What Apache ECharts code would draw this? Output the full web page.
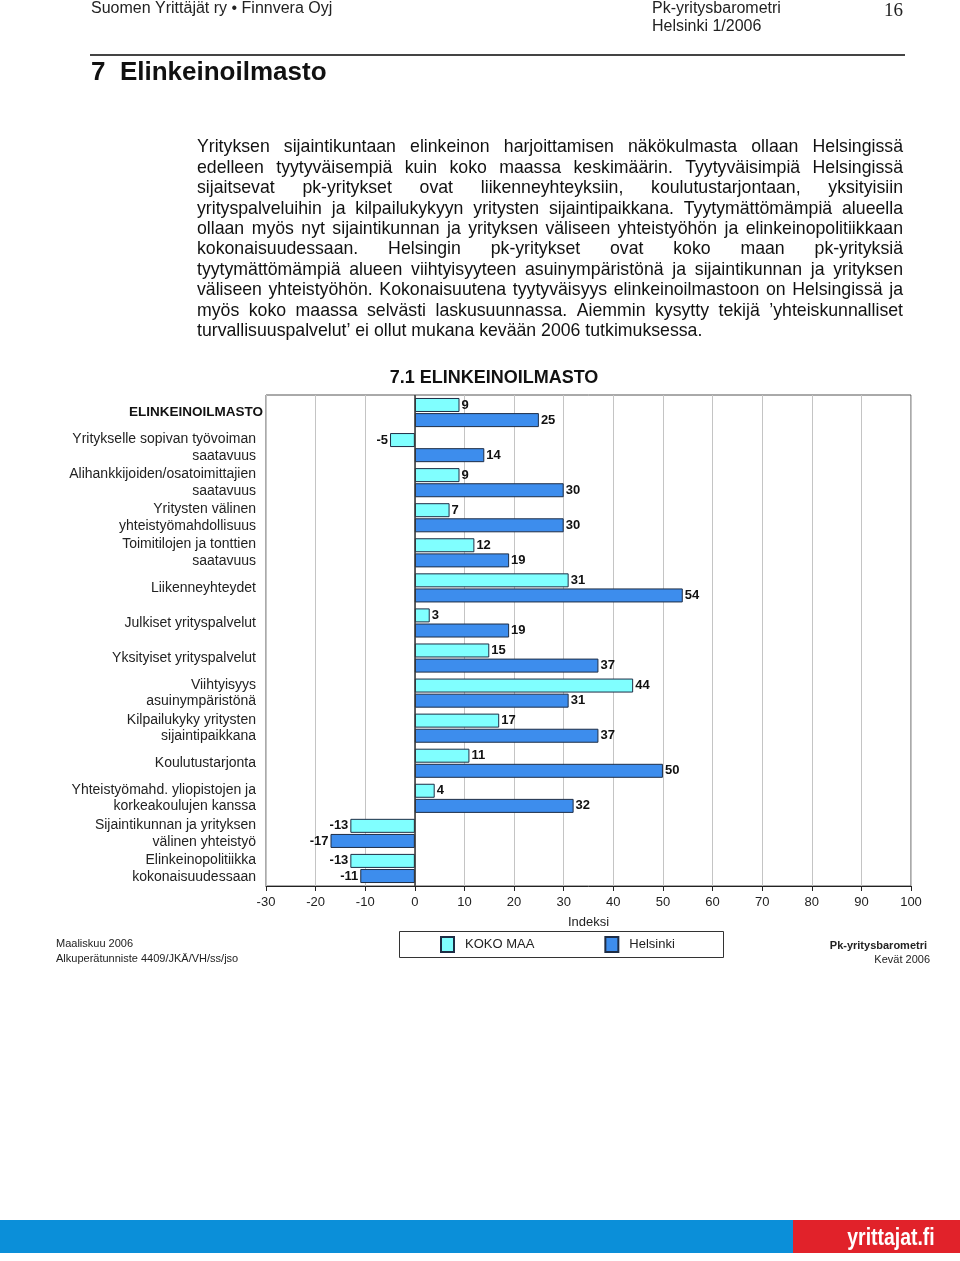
<!DOCTYPE html>
<html>
<head>
<meta charset="utf-8">
<script src="https://cdn.jsdelivr.net/npm/echarts@6/dist/echarts.min.js"></script>
<style>
html,body{margin:0;padding:0;background:#fff;}
#chart{width:960px;height:1261px;}
</style>
</head>
<body>
<div id="chart"></div>
<script>
// ---- Data ----
const categories = [
  'ELINKEINOILMASTO',
  'Yritykselle sopivan työvoiman\nsaatavuus',
  'Alihankkijoiden/osatoimittajien\nsaatavuus',
  'Yritysten välinen\nyhteistyömahdollisuus',
  'Toimitilojen ja tonttien\nsaatavuus',
  'Liikenneyhteydet',
  'Julkiset yrityspalvelut',
  'Yksityiset yrityspalvelut',
  'Viihtyisyys\nasuinympäristönä',
  'Kilpailukyky yritysten\nsijaintipaikkana',
  'Koulutustarjonta',
  'Yhteistyömahd. yliopistojen ja\nkorkeakoulujen kanssa',
  'Sijaintikunnan ja yrityksen\nvälinen yhteistyö',
  'Elinkeinopolitiikka\nkokonaisuudessaan'
];
const kokoMaa = [9, -5, 9, 7, 12, 31, 3, 15, 44, 17, 11, 4, -13, -13];
const helsinki = [25, 14, 30, 30, 19, 54, 19, 37, 31, 37, 50, 32, -17, -11];
const seriesNames = ['KOKO MAA', 'Helsinki'];
const xMin = -30, xMax = 100, xStep = 10;

const paragraphLines = [
  'Yrityksen sijaintikuntaan elinkeinon harjoittamisen näkökulmasta ollaan Helsingissä',
  'edelleen tyytyväisempiä kuin koko maassa keskimäärin. Tyytyväisimpiä Helsingissä',
  'sijaitsevat pk-yritykset ovat liikenneyhteyksiin, koulutustarjontaan, yksityisiin',
  'yrityspalveluihin ja kilpailukykyyn yritysten sijaintipaikkana. Tyytymättömämpiä alueella',
  'ollaan myös nyt sijaintikunnan ja yrityksen väliseen yhteistyöhön ja elinkeinopolitiikkaan',
  'kokonaisuudessaan. Helsingin pk-yritykset ovat koko maan pk-yrityksiä',
  'tyytymättömämpiä alueen viihtyisyyteen asuinympäristönä ja sijaintikunnan ja yrityksen',
  'väliseen yhteistyöhön. Kokonaisuutena tyytyväisyys elinkeinoilmastoon on Helsingissä ja',
  'myös koko maassa selvästi laskusuunnassa. Aiemmin kysytty tekijä ’yhteiskunnalliset',
  'turvallisuuspalvelut’ ei ollut mukana kevään 2006 tutkimuksessa.'
];

// ---- Build ----
const FONT = '"Liberation Sans", Arial, Helvetica, sans-serif';
const colors = ['#80ffff', '#3d8ded'];

function mkData(arr) {
  return arr.map(v => ({ value: v, label: { position: v < 0 ? 'left' : 'right' } }));
}

// justified paragraph as per-word texts
const graphics = [];
const measureCtx = document.createElement('canvas').getContext('2d');
const pFontSize = 17.7;
measureCtx.font = pFontSize + 'px ' + FONT;
const pLeft = 197, pRight = 903, pTop = 147.5, pLH = 20.4;
paragraphLines.forEach((line, i) => {
  const y = pTop + i * pLH;
  const words = line.split(' ');
  const last = i === paragraphLines.length - 1;
  const widths = words.map(w => measureCtx.measureText(w).width);
  const total = widths.reduce((a, b) => a + b, 0);
  const gap = (last || words.length < 2) ? measureCtx.measureText(' ').width : (pRight - pLeft - total) / (words.length - 1);
  let x = pLeft;
  words.forEach((w, j) => {
    graphics.push({
      type: 'text', x: x, y: y, silent: true,
      style: { text: w, fontSize: pFontSize, fontFamily: FONT, fill: '#111', textVerticalAlign: 'middle' }
    });
    x += widths[j] + gap;
  });
});

graphics.push(
  { type: 'text', x: 91, y: 9, style: { text: 'Suomen Yrittäjät ry • Finnvera Oyj', fontSize: 16, fontFamily: FONT, fill: '#222', textVerticalAlign: 'middle' } },
  { type: 'text', x: 652, y: 9, style: { text: 'Pk-yritysbarometri', fontSize: 16, fontFamily: FONT, fill: '#222', textVerticalAlign: 'middle' } },
  { type: 'text', x: 652, y: 27, style: { text: 'Helsinki 1/2006', fontSize: 16, fontFamily: FONT, fill: '#222', textVerticalAlign: 'middle' } },
  { type: 'text', x: 884, y: 11, style: { text: '16', fontSize: 19, fontFamily: '"Liberation Serif", "DejaVu Serif", serif', fill: '#222', textVerticalAlign: 'middle' } },
  { type: 'line', shape: { x1: 90, y1: 55, x2: 905, y2: 55 }, style: { stroke: '#444', lineWidth: 2 } },
  { type: 'text', x: 91, y: 73, style: { text: '7  Elinkeinoilmasto', fontSize: 26, fontWeight: 'bold', fontFamily: FONT, fill: '#111', textVerticalAlign: 'middle' } },
  { type: 'text', x: 494, y: 378, style: { text: '7.1 ELINKEINOILMASTO', fontSize: 18, fontWeight: 'bold', fontFamily: FONT, fill: '#111', textAlign: 'center', textVerticalAlign: 'middle' } },
  { type: 'rect', shape: { x: 399.5, y: 931.5, width: 324, height: 26 }, style: { fill: '#fff', stroke: '#333', lineWidth: 1 }, z: -1 },
  { type: 'text', x: 56, y: 944, style: { text: 'Maaliskuu 2006', fontSize: 11, fontFamily: FONT, fill: '#222', textVerticalAlign: 'middle' } },
  { type: 'text', x: 56, y: 959, style: { text: 'Alkuperätunniste 4409/JKÄ/VH/ss/jso', fontSize: 11, fontFamily: FONT, fill: '#222', textVerticalAlign: 'middle' } },
  { type: 'text', x: 927, y: 946, style: { text: 'Pk-yritysbarometri', fontSize: 11, fontWeight: 'bold', fontFamily: FONT, fill: '#222', textAlign: 'right', textVerticalAlign: 'middle' } },
  { type: 'text', x: 930, y: 960, style: { text: 'Kevät 2006', fontSize: 11, fontFamily: FONT, fill: '#222', textAlign: 'right', textVerticalAlign: 'middle' } },
  { type: 'rect', shape: { x: 0, y: 1220, width: 793, height: 33 }, style: { fill: '#0b8fd9' } },
  { type: 'rect', shape: { x: 793, y: 1220, width: 167, height: 33 }, style: { fill: '#e1222a' } },
  { type: 'text', x: 891, y: 1238, scaleX: 0.81, scaleY: 1, originX: 0, originY: 0, z: 10,
    style: { text: 'yrittajat.fi', x: 0, y: 0, fontSize: 24, fontWeight: 'bold', fontFamily: FONT, fill: '#fff', textAlign: 'center', textVerticalAlign: 'middle' } }
);

const chart = echarts.init(document.getElementById('chart'), null, { renderer: 'canvas' });
chart.setOption({
  animation: false,
  backgroundColor: '#fff',
  textStyle: { fontFamily: FONT },
  grid: { left: 266, right: 49, top: 395, bottom: 375, show: true, borderColor: '#555', borderWidth: 1, containLabel: false },
  legend: {
    left: 440, top: 936, padding: 0, itemWidth: 13, itemHeight: 15, itemGap: 70, icon: 'rect',
    textStyle: { fontSize: 13, fontFamily: FONT, color: '#222', padding: [0, 0, 0, 6] },
    data: seriesNames
  },
  xAxis: {
    type: 'value', min: xMin, max: xMax, interval: xStep,
    name: 'Indeksi', nameLocation: 'middle', nameGap: 30,
    nameTextStyle: { fontSize: 13, color: '#222', fontFamily: FONT },
    axisLine: { show: true, onZero: false, lineStyle: { color: '#222', width: 1 } },
    axisTick: { show: true, length: 5, lineStyle: { color: '#222' } },
    axisLabel: { fontSize: 13, color: '#222', margin: 10, fontFamily: FONT },
    splitLine: { show: true, lineStyle: { color: '#c4c4c4', width: 1 } }
  },
  yAxis: {
    type: 'category', data: categories, inverse: true,
    axisLine: { show: false }, axisTick: { show: false }, splitLine: { show: false },
    axisLabel: {
      margin: 3, fontSize: 14, color: '#222', lineHeight: 16, fontFamily: FONT,
      formatter: (v, i) => i === 0 ? '{b|' + v + '}' : '{n|' + v + '}',
      rich: {
        b: { fontSize: 13.5, fontWeight: 'bold', color: '#111', fontFamily: FONT, lineHeight: 16 },
        n: { fontSize: 14, color: '#222', fontFamily: FONT, lineHeight: 16.5, padding: [0, 7, 0, 0] }
      }
    }
  },
  series: [kokoMaa, helsinki].map((arr, k) => ({
    name: seriesNames[k], type: 'bar', data: mkData(arr),
    barWidth: 14, barGap: '8%',
    itemStyle: { color: colors[k], borderColor: '#1e2d45', borderWidth: 1 },
    label: { show: true, distance: 2, fontSize: 13, fontWeight: 'bold', color: '#111', fontFamily: FONT },
    markLine: k === 0 ? {
      silent: true, symbol: 'none', label: { show: false },
      lineStyle: { color: '#333', type: 'solid', width: 1.5 },
      data: [{ xAxis: 0 }]
    } : undefined
  })),
  graphic: graphics
});
</script>
</body>
</html>
